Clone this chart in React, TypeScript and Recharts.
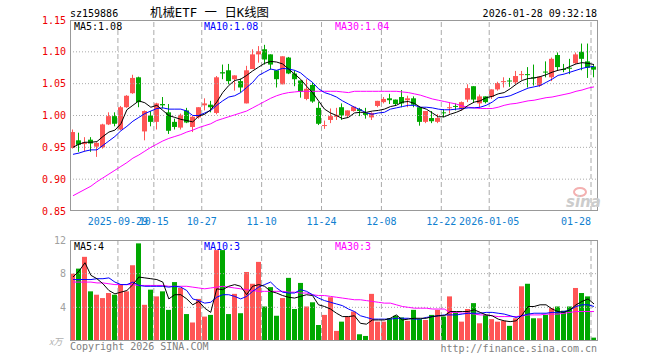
import { Bar, ComposedChart, Line, ReferenceLine, XAxis, YAxis } from 'recharts';

const dates = [
  '09-17', '09-18', '09-19', '09-22', '09-23', '09-24', '09-25', '09-26', '09-29', '09-30',
  '10-09', '10-10', '10-13', '10-14', '10-15', '10-16', '10-17', '10-20', '10-21', '10-22',
  '10-23', '10-24', '10-27', '10-28', '10-29', '10-30', '10-31', '11-03', '11-04', '11-05',
  '11-06', '11-07', '11-10', '11-11', '11-12', '11-13', '11-14', '11-17', '11-18', '11-19',
  '11-20', '11-21', '11-24', '11-25', '11-26', '11-27', '11-28', '12-01', '12-02', '12-03',
  '12-04', '12-05', '12-08', '12-09', '12-10', '12-11', '12-12', '12-15', '12-16', '12-17',
  '12-18', '12-19', '12-22', '12-23', '12-24', '12-25', '12-26', '12-29', '12-30', '12-31',
  '01-05', '01-06', '01-07', '01-08', '01-09', '01-12', '01-13', '01-14', '01-15', '01-16',
  '01-19', '01-20', '01-21', '01-22', '01-23', '01-26', '01-27', '01-28',
];

const open = [
  0.949, 0.961, 0.955, 0.962, 0.951, 0.950, 0.986, 0.999, 0.978, 1.013,
  1.035, 1.060, 0.975, 1.000, 0.990, 1.018, 1.005, 0.990, 0.981, 1.008,
  0.982, 0.997, 1.016, 1.017, 1.004, 1.068, 1.071, 1.057, 1.054, 1.019,
  1.073, 1.096, 1.104, 1.096, 1.071, 1.049, 1.091, 1.066, 1.055, 1.026,
  1.048, 1.012, 0.984, 0.993, 0.998, 1.013, 0.999, 1.007, 1.010, 1.004,
  0.997, 1.015, 1.021, 1.027, 1.025, 1.029, 1.024, 1.027, 1.013, 0.990,
  0.996, 0.990, 1.005, 1.012, 1.015, 1.010, 1.025, 1.046, 1.019, 1.030,
  1.029, 1.041, 1.053, 1.055, 1.052, 1.064, 1.065, 1.060, 1.047, 1.069,
  1.060, 1.095, 1.073, 1.075, 1.082, 1.100, 1.085, 1.077,
];
const high = [
  0.978, 0.973, 0.966, 0.966, 0.958, 0.987, 1.005, 1.005, 1.015, 1.032,
  1.064, 1.061, 1.008, 1.007, 1.020, 1.029, 1.018, 0.995, 1.003, 1.012,
  0.999, 1.013, 1.027, 1.023, 1.062, 1.080, 1.081, 1.063, 1.058, 1.078,
  1.104, 1.109, 1.111, 1.096, 1.071, 1.093, 1.092, 1.071, 1.055, 1.057,
  1.052, 1.021, 0.992, 1.011, 1.012, 1.019, 1.008, 1.014, 1.012, 1.012,
  1.005, 1.023, 1.029, 1.034, 1.025, 1.040, 1.031, 1.030, 1.013, 1.007,
  1.007, 1.002, 1.010, 1.021, 1.019, 1.022, 1.049, 1.046, 1.033, 1.030,
  1.041, 1.053, 1.060, 1.059, 1.070, 1.070, 1.076, 1.080, 1.061, 1.085,
  1.091, 1.099, 1.081, 1.089, 1.099, 1.113, 1.113, 1.080,
];
const low = [
  0.948, 0.943, 0.944, 0.943, 0.935, 0.948, 0.985, 0.983, 0.977, 1.012,
  1.034, 1.013, 0.961, 0.983, 0.978, 1.011, 0.971, 0.978, 0.978, 0.988,
  0.974, 0.995, 1.008, 1.005, 1.002, 1.057, 1.049, 1.039, 1.036, 1.019,
  1.073, 1.083, 1.080, 1.072, 1.044, 1.049, 1.065, 1.046, 1.028, 1.024,
  1.020, 0.985, 0.979, 0.988, 0.993, 0.993, 0.997, 1.006, 0.999, 0.995,
  0.993, 1.013, 1.019, 1.018, 1.015, 1.013, 1.013, 1.013, 0.984, 0.988,
  0.988, 0.988, 0.997, 1.003, 1.008, 1.008, 1.021, 1.021, 1.013, 1.019,
  1.026, 1.039, 1.044, 1.045, 1.049, 1.056, 1.044, 1.047, 1.045, 1.060,
  1.054, 1.070, 1.068, 1.065, 1.081, 1.071, 1.059, 1.060,
];
const close = [
  0.974, 0.954, 0.958, 0.956, 0.957, 0.986, 0.999, 0.987, 1.013, 1.031,
  1.059, 1.021, 1.007, 0.990, 1.019, 1.016, 0.976, 0.982, 1.001, 0.989,
  0.998, 1.013, 1.019, 1.013, 1.060, 1.066, 1.054, 1.063, 1.044, 1.071,
  1.096, 1.101, 1.088, 1.080, 1.057, 1.093, 1.066, 1.057, 1.037, 1.042,
  1.022, 0.987, 0.985, 0.999, 1.001, 1.000, 1.008, 1.014, 1.007, 1.001,
  1.004, 1.023, 1.026, 1.024, 1.018, 1.019, 1.027, 1.017, 0.990, 1.007,
  0.991, 0.996, 1.004, 1.013, 1.014, 1.021, 1.043, 1.025, 1.030, 1.021,
  1.041, 1.051, 1.054, 1.054, 1.062, 1.065, 1.064, 1.059, 1.061, 1.068,
  1.089, 1.076, 1.072, 1.074, 1.096, 1.089, 1.075, 1.072,
];

const ma5 = [
  0.950, 0.955, 0.958, 0.958, 0.959, 0.967, 0.974, 0.977, 0.987, 1.009,
  1.016, 1.023, 1.020, 1.013, 1.016, 1.008, 1.000, 0.997, 0.994, 0.992,
  0.990, 0.999, 1.002, 1.009, 1.021, 1.036, 1.047, 1.055, 1.057, 1.063,
  1.070, 1.076, 1.082, 1.085, 1.084, 1.081, 1.073, 1.065, 1.057, 1.046,
  1.036, 1.023, 1.010, 1.004, 1.000, 0.995, 0.997, 1.004, 1.005, 1.005,
  1.007, 1.008, 1.010, 1.014, 1.016, 1.021, 1.022, 1.019, 1.013, 1.010,
  1.004, 0.998, 0.998, 1.002, 1.005, 1.009, 1.016, 1.021, 1.023, 1.028,
  1.030, 1.034, 1.036, 1.042, 1.049, 1.055, 1.058, 1.059, 1.061, 1.064,
  1.068, 1.071, 1.073, 1.077, 1.081, 1.083, 1.082, 1.080,
];
const ma10 = [
  0.939, 0.941, 0.944, 0.946, 0.946, 0.953, 0.960, 0.967, 0.976, 0.983,
  0.991, 0.997, 1.003, 1.007, 1.011, 1.012, 1.010, 1.010, 1.010, 1.007,
  1.000, 1.000, 1.004, 1.008, 1.016, 1.023, 1.029, 1.031, 1.036, 1.044,
  1.052, 1.063, 1.068, 1.073, 1.071, 1.074, 1.073, 1.071, 1.067, 1.059,
  1.052, 1.042, 1.036, 1.033, 1.029, 1.023, 1.018, 1.013, 1.009, 1.004,
  1.002, 1.004, 1.005, 1.010, 1.012, 1.014, 1.016, 1.016, 1.013, 1.013,
  1.012, 1.010, 1.009, 1.009, 1.010, 1.011, 1.012, 1.012, 1.013, 1.016,
  1.021, 1.028, 1.029, 1.031, 1.035, 1.039, 1.043, 1.045, 1.047, 1.052,
  1.057, 1.063, 1.065, 1.068, 1.071, 1.074, 1.076, 1.077,
];
const ma30 = [
  0.874, 0.879, 0.884, 0.889, 0.896, 0.902, 0.908, 0.914, 0.920, 0.926,
  0.933, 0.938, 0.944, 0.950, 0.955, 0.960, 0.964, 0.967, 0.970, 0.974,
  0.977, 0.981, 0.984, 0.987, 0.992, 0.995, 0.998, 1.001, 1.004, 1.007,
  1.012, 1.017, 1.022, 1.027, 1.031, 1.034, 1.036, 1.037, 1.038, 1.038,
  1.038, 1.038, 1.038, 1.038, 1.038, 1.037, 1.036, 1.038, 1.038, 1.038,
  1.038, 1.038, 1.038, 1.038, 1.038, 1.037, 1.036, 1.034, 1.032, 1.029,
  1.026, 1.024, 1.022, 1.020, 1.018, 1.015, 1.013, 1.012, 1.011, 1.011,
  1.011, 1.013, 1.016, 1.018, 1.019, 1.021, 1.023, 1.024, 1.026, 1.028,
  1.029, 1.031, 1.033, 1.035, 1.038, 1.040, 1.043, 1.045,
];

// volume in 万
const volume = [
  8.0, 8.6, 10.0, 5.9, 5.5, 5.1, 5.7, 5.5, 6.7, 5.9,
  9.0, 11.6, 4.3, 6.1, 5.3, 5.9, 3.7, 7.0, 6.3, 3.2,
  2.2, 5.0, 2.9, 3.1, 10.8, 10.8, 3.2, 5.6, 3.3, 8.2,
  6.8, 9.4, 4.1, 6.4, 3.0, 5.1, 7.5, 3.8, 6.9, 4.1,
  4.6, 1.9, 3.1, 5.2, 1.2, 2.3, 2.9, 3.5, 0.8, 0.6,
  5.6, 2.3, 2.3, 2.7, 3.0, 2.8, 2.4, 3.7, 2.6, 2.5,
  3.1, 3.7, 2.9, 5.3, 3.4, 2.3, 3.8, 4.5, 2.1, 3.1,
  2.6, 2.3, 2.4, 1.8, 2.7, 6.5, 6.8, 2.7, 2.7, 3.1,
  3.9, 4.1, 3.6, 4.1, 6.3, 5.7, 5.3, 0.4,
];
const vma5 = [
  7.6, 8.3, 9.3, 7.8, 7.4, 6.8, 6.0, 5.6, 5.8, 6.0,
  6.7, 7.6, 7.5, 7.4, 7.3, 7.0, 5.0, 5.5, 5.5, 5.0,
  4.3, 4.7, 3.9, 3.4, 6.2, 6.1, 6.5, 6.7, 6.5, 5.5,
  6.5, 6.7, 6.5, 5.9, 5.7, 5.4, 5.2, 5.1, 5.3, 5.5,
  5.4, 4.3, 4.1, 3.8, 3.3, 2.9, 2.9, 3.0, 2.1, 2.0,
  2.5, 2.5, 2.5, 2.7, 3.1, 2.5, 2.6, 2.7, 2.7, 2.7,
  2.9, 3.0, 3.0, 3.5, 3.5, 3.5, 3.5, 3.7, 3.4, 3.1,
  3.0, 2.6, 2.4, 2.3, 2.4, 3.1, 4.1, 4.1, 4.3, 4.3,
  3.8, 3.5, 3.4, 3.7, 4.3, 4.7, 5.0, 4.4,
];
const vma10 = [
  7.3, 7.3, 7.3, 7.3, 7.4, 7.4, 7.5, 7.0, 6.7, 6.7,
  7.0, 6.6, 6.5, 6.5, 6.5, 6.5, 6.4, 6.5, 6.4, 6.0,
  5.0, 4.8, 4.5, 4.6, 5.2, 5.5, 5.5, 5.3, 5.0, 5.3,
  5.9, 6.4, 6.7, 7.0, 6.3, 5.8, 5.7, 5.7, 6.1, 5.9,
  5.5, 5.1, 4.8, 4.6, 4.4, 4.2, 3.8, 3.5, 3.0, 2.8,
  2.6, 2.6, 2.6, 2.6, 2.7, 2.7, 2.7, 2.6, 2.6, 2.8,
  2.9, 3.0, 3.1, 3.1, 3.1, 3.2, 3.3, 3.3, 3.3, 3.4,
  3.4, 3.3, 3.2, 3.0, 2.8, 3.0, 3.2, 3.3, 3.3, 3.3,
  3.4, 3.4, 3.5, 3.7, 4.1, 4.3, 4.3, 4.1,
];
const vma30 = [
  7.0, 7.0, 7.0, 7.0, 6.9, 6.9, 6.8, 6.7, 6.7, 6.7,
  6.7, 6.6, 6.6, 6.6, 6.6, 6.6, 6.5, 6.5, 6.5, 6.5,
  6.4, 6.3, 6.2, 6.3, 6.4, 6.5, 6.4, 6.3, 6.2, 6.1,
  6.0, 5.9, 5.9, 5.9, 5.9, 5.9, 5.8, 5.8, 5.7, 5.7,
  5.5, 5.4, 5.4, 5.3, 5.2, 5.1, 5.0, 4.9, 4.9, 4.8,
  4.7, 4.6, 4.5, 4.5, 4.3, 4.1, 4.0, 3.9, 3.9, 3.9,
  3.8, 3.8, 3.8, 3.4, 3.4, 3.3, 3.3, 3.2, 3.1, 3.1,
  3.0, 2.9, 2.9, 2.9, 2.9, 3.0, 3.1, 3.1, 3.1, 3.2,
  3.2, 3.2, 3.3, 3.4, 3.5, 3.5, 3.5, 3.5,
];

const tickIdx = [8, 14, 22, 32, 42, 52, 62, 70, 87];
const tickLabels = ['2025-09-29', '10-15', '10-27', '11-10', '11-24', '12-08', '12-22', '2026-01-05', '01-28'];
const priceTicks = [0.85, 0.9, 0.95, 1.0, 1.05, 1.1, 1.15];
const volTicks = [4, 8, 12];

const RED = '#ff5555';
const GREEN = '#00a800';
const MONO = "'DejaVu Sans Mono', monospace";
const GRID = '#aaaaaa';

const data = dates.map((d, i) => ({
  d,
  idx: i,
  o: open[i],
  h: high[i],
  l: low[i],
  c: close[i],
  range: [low[i], high[i]],
  up: close[i] >= open[i],
  ma5: ma5[i],
  ma10: ma10[i],
  ma30: ma30[i],
  v: volume[i],
  vma5: vma5[i],
  vma10: vma10[i],
  vma30: vma30[i],
}));

const boundaries = tickIdx.map((i) => i - 0.5);

// eslint-disable-next-line @typescript-eslint/no-explicit-any
function Candle(props: any) {
  const { x, y, width, height, payload } = props;
  if (x == null || y == null) return null;
  const top = Math.min(y, y + height);
  const hgt = Math.abs(height);
  const { o, h, l, c, up } = payload;
  const py = (p: number) => (h === l ? top : top + ((h - p) / (h - l)) * hgt);
  const cx = Math.floor(x + width / 2) + 0.5;
  const color = up ? RED : GREEN;
  const bTop = py(Math.max(o, c));
  const bBot = py(Math.min(o, c));
  return (
    <g>
      <line x1={cx} x2={cx} y1={top} y2={top + hgt} stroke={color} strokeWidth={1} />
      <rect x={cx - 2.5} y={bTop} width={5} height={Math.max(1, bBot - bTop)} fill={color} />
    </g>
  );
}

// eslint-disable-next-line @typescript-eslint/no-explicit-any
function VolBar(props: any) {
  const { x, y, width, height, payload } = props;
  if (x == null || y == null) return null;
  const cx = Math.floor(x + width / 2) + 0.5;
  return (
    <rect
      x={cx - 2.5}
      y={Math.min(y, y + height)}
      width={5}
      height={Math.abs(height)}
      fill={payload.up ? RED : GREEN}
    />
  );
}

// date labels sit just under the price panel's bottom edge
// eslint-disable-next-line @typescript-eslint/no-explicit-any
function DateTick(props: any) {
  const { x, payload } = props;
  const k = boundaries.indexOf(payload.value);
  if (k < 0) return null;
  const last = k === boundaries.length - 1;
  return (
    <text
      x={x}
      y={225}
      textAnchor={last ? 'end' : 'middle'}
      fill="#1080d0"
      fontFamily={MONO}
      fontSize={10}
    >
      {tickLabels[k]}
    </text>
  );
}

export default function App() {
  return (
    <div style={{ position: 'absolute', left: 0, top: 0, width: 660, height: 360, background: '#fff' }}>
      <div style={{ position: 'absolute', left: 0, top: 0 }}>
        <ComposedChart width={660} height={240} data={data} margin={{ top: 20, right: 63, left: 8, bottom: 0 }}>
          <XAxis xAxisId="cat" dataKey="d" hide />
          <XAxis
            xAxisId="num"
            dataKey="idx"
            type="number"
            domain={[-0.5, 87.5]}
            ticks={boundaries}
            interval={0}
            height={29}
            axisLine={false}
            tickLine={false}
            tickSize={0}
            tickMargin={0}
            tick={<DateTick />}
          />
          <YAxis
            yAxisId="p"
            domain={[0.85, 1.15]}
            ticks={priceTicks}
            width={62}
            axisLine={false}
            tickLine={false}
            tickSize={2}
            tickMargin={2}
            tickFormatter={(v) => Number(v).toFixed(2)}
            tick={{ fill: '#ee0000', fontFamily: MONO, fontSize: 10 }}
            interval={0}
          />
          {priceTicks.slice(1, -1).map((t) => (
            <ReferenceLine key={t} xAxisId="num" yAxisId="p" y={t} stroke={GRID} strokeDasharray="1 2" />
          ))}
          {boundaries.map((b) => (
            <ReferenceLine key={b} xAxisId="num" yAxisId="p" x={b} stroke={GRID} strokeDasharray="5 3" />
          ))}
          <Bar
            xAxisId="cat"
            yAxisId="p"
            dataKey="range"
            barSize={5}
            shape={<Candle />}
            isAnimationActive={false}
          />
          <Line xAxisId="cat" yAxisId="p" dataKey="ma30" stroke="#ff00ff" strokeWidth={1} dot={false} isAnimationActive={false} />
          <Line xAxisId="cat" yAxisId="p" dataKey="ma10" stroke="#0000ff" strokeWidth={1} dot={false} isAnimationActive={false} />
          <Line xAxisId="cat" yAxisId="p" dataKey="ma5" stroke="#000000" strokeWidth={1} dot={false} isAnimationActive={false} />
        </ComposedChart>
      </div>

      <div style={{ position: 'absolute', left: 0, top: 232 }}>
        <ComposedChart width={660} height={128} data={data} margin={{ top: 8, right: 63, left: 8, bottom: 19 }}>
          <XAxis xAxisId="cat" dataKey="d" hide />
          <XAxis xAxisId="num" dataKey="idx" type="number" domain={[-0.5, 87.5]} hide />
          <YAxis
            yAxisId="v"
            domain={[0, 12]}
            ticks={volTicks}
            width={62}
            axisLine={false}
            tickLine={false}
            tickSize={2}
            tickMargin={2}
            tick={{ fill: '#a0a0a0', fontFamily: MONO, fontSize: 10 }}
            interval={0}
          />
          {[4, 8].map((t) => (
            <ReferenceLine key={t} xAxisId="num" yAxisId="v" y={t} stroke={GRID} strokeDasharray="1 2" />
          ))}
          {boundaries.map((b) => (
            <ReferenceLine key={b} xAxisId="num" yAxisId="v" x={b} stroke={GRID} strokeDasharray="5 3" />
          ))}
          <Bar xAxisId="cat" yAxisId="v" dataKey="v" barSize={5} shape={<VolBar />} isAnimationActive={false} />
          <Line xAxisId="cat" yAxisId="v" dataKey="vma30" stroke="#ff00ff" strokeWidth={1} dot={false} isAnimationActive={false} />
          <Line xAxisId="cat" yAxisId="v" dataKey="vma10" stroke="#0000ff" strokeWidth={1} dot={false} isAnimationActive={false} />
          <Line xAxisId="cat" yAxisId="v" dataKey="vma5" stroke="#000000" strokeWidth={1} dot={false} isAnimationActive={false} />
        </ComposedChart>
      </div>

      <svg
        width={660}
        height={360}
        style={{ position: 'absolute', left: 0, top: 0, pointerEvents: 'none' }}
      >
        <rect x={70.5} y={20.5} width={527} height={190} fill="none" stroke="#999" />
        <rect x={70.5} y={240.5} width={527} height={100} fill="none" stroke="#999" />

        <text x={70} y={17} fontFamily={MONO} fontSize={10} fill="#000">sz159886</text>
        <text
          x={150}
          y={17}
          fontFamily={`${MONO}, 'Noto Sans CJK SC'`}
          fontSize={12}
          textLength={119}
          lengthAdjust="spacingAndGlyphs"
          fill="#000"
        >
          机械ETF 一 日K线图
        </text>
        <text x={597} y={17} textAnchor="end" fontFamily={MONO} fontSize={10} fill="#000">
          2026-01-28 09:32:18
        </text>

        <text x={74} y={30} fontFamily={MONO} fontSize={10} fill="#000">MA5:1.08</text>
        <text x={204} y={30} fontFamily={MONO} fontSize={10} fill="#0000ff">MA10:1.08</text>
        <text x={335} y={30} fontFamily={MONO} fontSize={10} fill="#ff00ff">MA30:1.04</text>

        <text x={74} y={250} fontFamily={MONO} fontSize={10} fill="#000">MA5:4</text>
        <text x={204} y={250} fontFamily={MONO} fontSize={10} fill="#0000ff">MA10:3</text>
        <text x={335} y={250} fontFamily={MONO} fontSize={10} fill="#ff00ff">MA30:3</text>

        <text x={49} y={345} fontFamily="'Noto Sans CJK SC', serif" fontSize={9} fontStyle="italic" fill="#b0b0b0">
          x万
        </text>
        <text x={70} y={350} fontFamily={MONO} fontSize={10} fill="#808080">Copyright 2026 SINA.COM</text>
        <text x={597} y={352} textAnchor="end" fontFamily={MONO} fontSize={10} fill="#808080">
          http://finance.sina.com.cn
        </text>

        <ellipse cx={580} cy={192} rx={6} ry={4} fill="none" stroke="#f4b0b0" strokeWidth={2} />
        <text x={566} y={207} fontFamily="'DejaVu Sans', sans-serif" fontSize={15} fontWeight="bold" fontStyle="italic" fill="#cccccc">
          sina
        </text>
      </svg>
    </div>
  );
}
